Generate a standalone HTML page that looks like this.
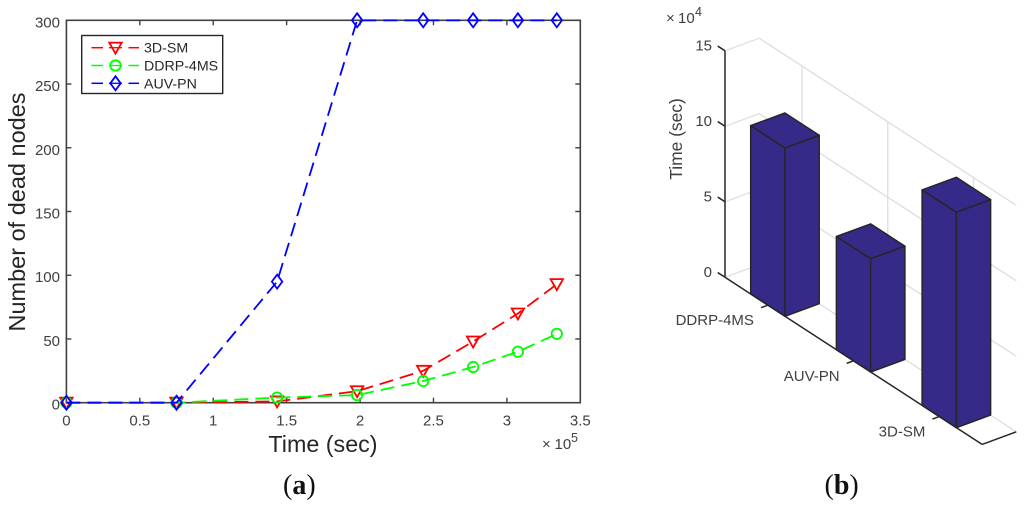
<!DOCTYPE html>
<html lang="en">
<head>
<meta charset="utf-8">
<title>Dead nodes and time charts</title>
<style>
html,body{margin:0;padding:0;background:#fff;width:1024px;height:508px;overflow:hidden}
svg{display:block;font-family:"Liberation Sans",sans-serif;filter:blur(0.35px)}
</style>
</head>
<body>
<svg id="figure" xmlns="http://www.w3.org/2000/svg" width="1024" height="508" viewBox="0 0 1024 508">
  <g id="chart-a"></g>
  <g id="chart-b"></g>
  <text x="283" y="494" font-family="'Liberation Serif',serif" font-size="28" fill="#111">(<tspan font-weight="bold">a</tspan>)</text>
  <text x="824.5" y="494" font-family="'Liberation Serif',serif" font-size="28" fill="#111">(<tspan font-weight="bold">b</tspan>)</text>
</svg>
<script>
// ---- chart (a) data ----
const timeValues = [0, 0.75, 1.435, 1.98, 2.43, 2.77, 3.075, 3.34];
const deadNodes3dSm = [0, 0, 1, 9, 25, 48, 70, 93];
const deadNodesDdrp = [0, 0, 4, 6, 17, 28, 40, 54];
const deadNodesAuvPn = [0, 0, 95, 300, 300, 300, 300, 300];
const xTickLabels = ['0', '0.5', '1', '1.5', '2', '2.5', '3', '3.5'];
const yTickLabels = ['0', '50', '100', '150', '200', '250', '300'];
const legendLabels = ['3D-SM', 'DDRP-4MS', 'AUV-PN'];

// ---- chart (b) data ----
const barCategories = ['DDRP-4MS', 'AUV-PN', '3D-SM'];
const barTimes = [11.15, 7.5, 14.27];
const zTickLabels = ['0', '5', '10', '15'];

const NS = 'http://www.w3.org/2000/svg';
const AX = '#404040';

function make(parent, tag, props, text) {
  const el = document.createElementNS(NS, tag);
  for (const k in props) el.setAttribute(k, props[k]);
  if (text !== undefined) el.textContent = text;
  parent.appendChild(el);
  return el;
}

// ---------- chart (a) ----------
const a = document.getElementById('chart-a');
const L = 66.4, R = 580.3, T = 20.3, B = 402.7;
const xA = v => L + (v / 3.5) * (R - L);
const yA = v => B - (v / 300) * (B - T);

const axesBox = make(a, 'rect', {x: L, y: T, width: R - L, height: B - T, fill: 'none', stroke: AX, 'stroke-width': 1.6});



xTickLabels.forEach(function (lab) {
  const v = parseFloat(lab);
  const x = xA(v);
  if (v > 0 && v < 3.5) {
    const t1 = make(a, 'line', {x1: x, x2: x, y1: B, y2: B - 5, stroke: AX, 'stroke-width': 1.4});
    
    
    const t2 = make(a, 'line', {x1: x, x2: x, y1: T, y2: T + 5, stroke: AX, 'stroke-width': 1.4});
    
    
  }
  const tl = make(a, 'text', {x: x, y: 425.5, 'text-anchor': 'middle', 'font-size': 15, fill: AX}, lab);
  
  
});

yTickLabels.forEach(function (lab) {
  const v = parseFloat(lab);
  const y = yA(v);
  if (v > 0 && v < 300) {
    const t1 = make(a, 'line', {x1: L, x2: L + 5, y1: y, y2: y, stroke: AX, 'stroke-width': 1.4});
    
    
    const t2 = make(a, 'line', {x1: R, x2: R - 5, y1: y, y2: y, stroke: AX, 'stroke-width': 1.4});
    
    
  }
  const tl = make(a, 'text', {x: 60, y: y + 7, 'text-anchor': 'end', 'font-size': 15, fill: AX}, lab);
  
  
});

const xTitle = make(a, 'text', {x: 323, y: 452, 'text-anchor': 'middle', 'font-size': 23.3, fill: '#262626'}, 'Time (sec)');



const yTitle = make(a, 'text', {transform: 'translate(25 212) rotate(-90)', 'text-anchor': 'middle', 'font-size': 23.5, fill: '#262626'}, 'Number of dead nodes');



const xExp = make(a, 'text', {x: 542, y: 449, 'font-size': 15, fill: AX});


make(xExp, 'tspan', {}, '\u00d7');
make(xExp, 'tspan', {x: 554.5}, '10');
make(xExp, 'tspan', {x: 571, y: 442, 'font-size': 12.5}, '5');

function drawMarker(group, kind, x, y, color) {
  const st = {fill: 'none', stroke: color, 'stroke-width': 1.8};
  if (kind === 'triangle') {
    make(group, 'polygon', Object.assign({points: [[x - 6.2, y - 5], [x + 6.2, y - 5], [x, y + 6]].join(' ')}, st));
  } else if (kind === 'circle') {
    make(group, 'circle', Object.assign({cx: x, cy: y, r: 5.2}, st));
  } else {
    make(group, 'polygon', Object.assign({points: [[x, y - 7], [x + 5.2, y], [x, y + 7], [x - 5.2, y]].join(' ')}, st));
  }
}

const seriesDefs = [
  {values: deadNodes3dSm, color: '#ff0000', kind: 'triangle', name: 'series-3d-sm'},
  {values: deadNodesDdrp, color: '#00ff00', kind: 'circle', name: 'series-ddrp-4ms'},
  {values: deadNodesAuvPn, color: '#0000ff', kind: 'diamond', name: 'series-auv-pn'}
];

seriesDefs.forEach(function (s) {
  const g = make(a, 'g', {});
  
  
  const pts = s.values.map((v, i) => xA(timeValues[i]).toFixed(1) + ',' + yA(v).toFixed(1)).join(' ');
  const line = make(g, 'polyline', {points: pts, fill: 'none', stroke: s.color, 'stroke-width': 1.8, 'stroke-dasharray': '14 7'});
  
  
  s.values.forEach(function (v, i) {
    const m = make(g, 'g', {});
    
    
    drawMarker(m, s.kind, xA(timeValues[i]), yA(v), s.color);
  });
});

// legend
const legend = make(a, 'g', {});


make(legend, 'rect', {x: 81.7, y: 35.5, width: 141, height: 58, fill: '#fff', stroke: '#262626', 'stroke-width': 1.4});
seriesDefs.forEach(function (s, i) {
  const y = 47.7 + i * 17.8;
  const row = make(legend, 'g', {});
  
  
  make(row, 'line', {x1: 91.5, x2: 103, y1: y, y2: y, stroke: s.color, 'stroke-width': 1.5});
  make(row, 'line', {x1: 128.5, x2: 139, y1: y, y2: y, stroke: s.color, 'stroke-width': 1.5});
  make(row, 'line', {x1: 109, x2: 122, y1: y, y2: y, stroke: s.color, 'stroke-width': 1.3});
  drawMarker(row, s.kind, 115.5, y, s.color);
  make(row, 'text', {x: 144, y: y + 5, 'font-size': 14.2, fill: '#262626'}, legendLabels[i]);
});

// ---------- chart (b) ----------
const b = document.getElementById('chart-b');
const OX = 725, OY = 277.3;
const CATX = 85.7, CATY = 55.7, DX = 34.2, DY = -12.6, ZS = 15.1;
// c: position along category axis (axis runs 0..count), d: depth 0..1, z: value in 1e4 sec
function P(c, d, z) {
  return [OX + c * CATX + d * DX, OY + c * CATY + d * DY - z * ZS];
}
const ptStr = arr => arr.map(p => p[0].toFixed(1) + ',' + p[1].toFixed(1)).join(' ');
const nCat = barCategories.length;
const GRID = '#dedede';

function gridLine(p, q, name) {
  const l = make(b, 'line', {x1: p[0], y1: p[1], x2: q[0], y2: q[1], stroke: GRID, 'stroke-width': 1.3});
  
  
}

zTickLabels.forEach(function (lab) {
  const z = parseFloat(lab);
  gridLine(P(0, 0, z), P(0, 1, z), 'z-grid-side-wall');
  gridLine(P(0, 1, z), P(nCat, 1, z), 'z-grid-back-wall');
});
barCategories.forEach(function (cat, i) {
  gridLine(P(i + 0.5, 1, 0), P(i + 0.5, 1, 15), 'category-grid-back-wall');
  gridLine(P(i + 0.5, 0, 0), P(i + 0.5, 1, 0), 'category-grid-floor');
});

barTimes.forEach(function (v, i) {
  const c0 = i + 0.3, c1 = i + 0.7;
  const g = make(b, 'g', {fill: '#352a87', stroke: '#262626', 'stroke-width': 1.5, 'stroke-linejoin': 'round'});
  
  
  make(g, 'polygon', {points: ptStr([P(c0, 0, 0), P(c1, 0, 0), P(c1, 0, v), P(c0, 0, v)])});
  make(g, 'polygon', {points: ptStr([P(c1, 0, 0), P(c1, 1, 0), P(c1, 1, v), P(c1, 0, v)])});
  make(g, 'polygon', {points: ptStr([P(c0, 0, v), P(c1, 0, v), P(c1, 1, v), P(c0, 1, v)])});
});

function darkLine(p, q, name) {
  const l = make(b, 'line', {x1: p[0], y1: p[1], x2: q[0], y2: q[1], stroke: '#262626', 'stroke-width': 1.5});
  
  
}
darkLine(P(0, 0, 0), P(0, 0, 15), 'z-axis-line');
darkLine(P(0, 0, 0), P(nCat, 0, 0), 'category-axis-line');
darkLine(P(nCat, 0, 0), P(nCat, 1, 0), 'depth-axis-line');

zTickLabels.forEach(function (lab) {
  const z = parseFloat(lab);
  darkLine(P(0, 0, z), P(-0.085, 0, z), 'z-tick');
  const p = P(0, 0, z);
  const t = make(b, 'text', {x: 712, y: p[1] - 0.5, 'text-anchor': 'end', 'font-size': 15, fill: AX}, lab);
  
  
});

barCategories.forEach(function (cat, i) {
  darkLine(P(i + 0.5, 0, 0), P(i + 0.5, -0.2, 0), 'category-tick');
  const p = P(i + 0.5, 0, 0);
  const t = make(b, 'text', {x: p[0] - 13.9, y: p[1] + 20, 'text-anchor': 'end', 'font-size': 15, fill: AX}, cat);
  
  
});

const zTitle = make(b, 'text', {transform: 'translate(682 139) rotate(-90)', 'text-anchor': 'middle', 'font-size': 17.4, fill: AX}, 'Time (sec)');



const zExp = make(b, 'text', {x: 666, y: 23, 'font-size': 15, fill: AX});


make(zExp, 'tspan', {}, '\u00d7');
make(zExp, 'tspan', {x: 678}, '10');
make(zExp, 'tspan', {x: 695, y: 16, 'font-size': 12.5}, '4');
</script>
</body>
</html>
